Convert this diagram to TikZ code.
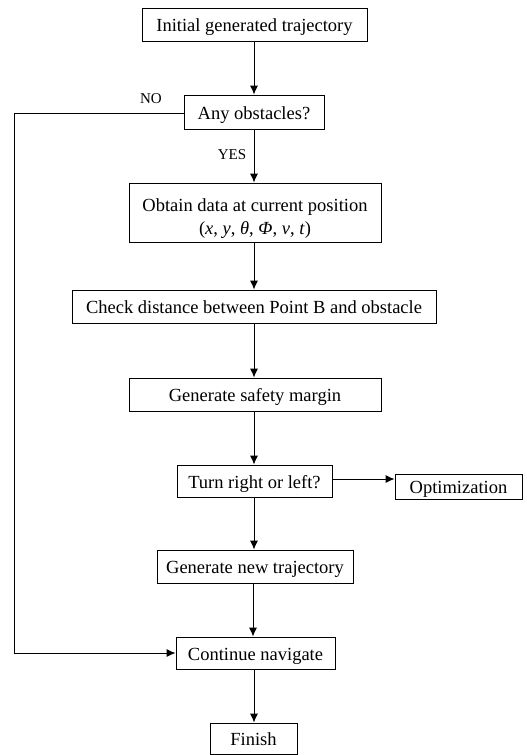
\documentclass[tikz,border=0pt]{standalone}
\usepackage{fontspec}
\setmainfont{Liberation Serif}
\usetikzlibrary{arrows.meta}
\begin{document}
\begin{tikzpicture}[x=1pt,y=-1pt,
  boxbase/.style={draw,line width=0.9pt,inner sep=0pt,align=center,font=\fontsize{18.5}{23}\selectfont},
  box/.style={boxbase,text height=15pt,text depth=1pt},
  arr/.style={line width=0.9pt,-{Latex[length=9pt,width=8pt]}},
  lbl/.style={font=\fontsize{15}{17}\selectfont,inner sep=0pt}]
\useasboundingbox (0,0) rectangle (527,755);
\node[box,minimum width=225pt,minimum height=33pt] (init) at (254.5,24.5) {Initial generated trajectory};
\node[box,minimum width=140pt,minimum height=34pt] (any) at (254,112) {Any obstacles?};
\node[boxbase,minimum width=252pt,minimum height=59pt] (obt) at (255,212.5) {\rule{0pt}{24pt}Obtain data at current position\\(\textit{x}, \textit{y}, \textit{θ}, \textit{Φ}, \textit{v}, \textit{t})};
\node[box,minimum width=364pt,minimum height=33pt] (chk) at (254,306.5) {Check distance between Point B and obstacle};
\node[box,minimum width=252pt,minimum height=33pt] (saf) at (255,394.5) {Generate safety margin};
\node[box,minimum width=155pt,minimum height=32pt] (turn) at (254.5,481) {Turn right or left?};
\node[box,minimum width=127pt,minimum height=25pt] (opt) at (458.5,486.5) {Optimization};
\node[box,minimum width=196pt,minimum height=33pt] (gen) at (255,566.5) {Generate new trajectory};
\node[box,minimum width=159pt,minimum height=32pt] (cont) at (255.5,653) {Continue navigate};
\node[box,minimum width=87pt,minimum height=31pt] (fin) at (253.5,738.5) {Finish};
\node[lbl] (no) at (151,99) {NO};
\node[lbl] (yes) at (232,155) {YES};
\coordinate (lc) at (14,113);
\draw[arr] (init.south -| 254,0) -- (any.north -| 254,0);
\draw[arr] (any.south -| 254,0) -- (obt.north -| 254,0);
\draw[arr] (obt.south -| 254,0) -- (chk.north -| 254,0);
\draw[arr] (chk.south -| 254,0) -- (saf.north -| 254,0);
\draw[arr] (saf.south -| 254,0) -- (turn.north -| 254,0);
\draw[arr] (turn.south -| 254,0) -- (gen.north -| 254,0);
\draw[arr] (gen.south -| 253,0) -- (cont.north -| 253,0);
\draw[arr] (cont.south -| 254,0) -- (fin.north -| 254,0);
\draw[arr] ([yshift=2pt]turn.east) -- ([yshift=2pt]turn.east -| opt.west);
\draw[arr] (any.west |- lc) -- (lc) |- (cont.west);
\end{tikzpicture}
\end{document}
